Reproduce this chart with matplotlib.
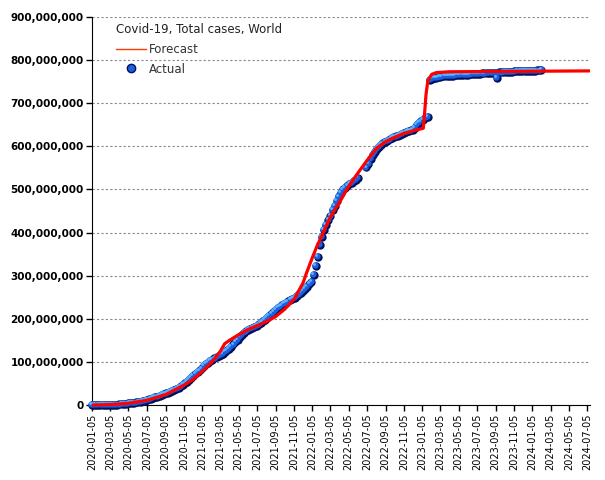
import matplotlib

matplotlib.use("Agg")
import matplotlib.pyplot as plt
import matplotlib.transforms as mtransforms
from matplotlib.lines import Line2D
from matplotlib.ticker import FuncFormatter, MultipleLocator
import numpy as np
import pandas as pd

# weekly actual totals (millions), Sundays from 2020-01-05
actual_2020 = [0, 0, 0.0003, 0.002, 0.017, 0.04, 0.07, 0.079, 0.088, 0.11, 0.17, 0.34, 0.72,
               1.27, 1.8, 2.4, 2.95, 3.5, 4.1, 4.7, 5.4, 6.1, 7.0, 7.9, 8.9, 10.1,
               11.4, 12.8, 14.4, 16.1, 17.9, 19.7, 21.5, 23.3, 25.0, 26.9, 28.9, 30.9, 32.9,
               35.1, 37.4, 40.0, 43.0, 46.4, 50.3, 54.4, 58.3, 62.1, 66.6, 71.2, 75.9, 80.3]
actual_2021 = [84.8, 89.9, 94.5, 98.4, 102.3, 105.4, 108.1, 110.6, 113.3, 116.0, 119.2, 122.8, 126.6,
               130.6, 135.2, 140.4, 146.1, 151.8, 157.5, 162.7, 166.9, 170.5, 173.5, 176.2, 178.7, 181.3,
               183.9, 186.9, 190.3, 194.1, 198.3, 202.6, 207.2, 211.6, 216.1, 220.3, 224.3, 227.9, 231.2,
               234.4, 237.3, 240.2, 243.0, 246.1, 249.3, 252.9, 256.6, 260.4, 264.6, 268.9, 273.7, 280.0]
actual_2022 = [286, 301, 322, 344, 371, 389, 406, 418, 429, 438, 452, 462, 473,
               484, 492, 500, 504, 508, 512, 516, 519, 522, 526, np.nan, np.nan, np.nan,
               551, 560, 570, 580, 588, 594, 599, 603, 607, 610, 613, 616, 619,
               621, 623, 625, 627, 629, 631, 633, 635, 637, 638, 643, 649, 654]
actual_2023 = [658, 662, 666, 669, 754, 756, 758, 759, 760, 761, 762, 762.5, 763,
               763.5, 764, 764.3, 764.6, 765, 765.3, 765.6, 766, 766.3, 766.6, 767, 767.3, 767.6,
               768, 768.3, 768.6, 769, 769.3, 769.6, 770, 770.3, 770.6, 771, 759, 771.3, 771.6,
               772, 772.3, 772.6, 773, 773.3, 773.6, 774, 774.2, 774.4, 774.6, 774.8, 775, 775.2, 775.4]
actual_2024 = [775.6, 775.8, 776, 776.2, 776.4]

forecast_dates = ["2020-01-05", "2020-03-05", "2020-05-05", "2020-07-05", "2020-09-05", "2020-11-05",
                  "2020-12-05", "2021-01-05", "2021-02-05", "2021-03-05", "2021-03-20", "2021-04-05",
                  "2021-05-05", "2021-06-05", "2021-07-05", "2021-08-05", "2021-09-05", "2021-10-05",
                  "2021-11-05", "2021-12-05", "2021-12-17", "2022-01-05", "2022-01-20", "2022-02-05",
                  "2022-03-05", "2022-04-05", "2022-05-05", "2022-06-05", "2022-07-05", "2022-08-05",
                  "2022-09-05", "2022-10-05", "2022-11-05", "2022-12-05", "2023-01-08", "2023-01-11",
                  "2023-01-17", "2023-01-23", "2023-02-05", "2023-02-20", "2023-04-05", "2024-07-14"]
forecast_values = [0, 1, 4, 11, 24, 46, 59, 78, 99, 124, 142, 150,
                   163, 175, 184, 193, 205, 222, 245, 283, 307, 342, 368, 392,
                   435, 470, 507, 538, 567, 595, 611, 621, 630, 636, 642, 665,
                   720, 752, 767, 771, 773, 775]

title = "Covid-19, Total cases, World"
tick_dates = pd.date_range("2020-01-05", "2024-07-05", freq=pd.DateOffset(months=2))

actual = np.array(actual_2020 + actual_2021 + actual_2022 + actual_2023 + actual_2024) * 1e6
actual_dates = pd.date_range("2020-01-05", periods=len(actual), freq="7D")
ok = ~np.isnan(actual)
fc_dates = pd.to_datetime(forecast_dates)
fc = np.array(forecast_values) * 1e6

fig = plt.figure(figsize=(6.05, 4.8), dpi=100)
ax = fig.add_axes([92 / 605, 75 / 480, 498 / 605, 388 / 480])

# sphere-like markers: dark base, blue body, light highlight
xd, yd = actual_dates[ok], actual[ok]
ax.scatter(xd, yd, s=36, color="#00105a", linewidths=0, zorder=3, clip_on=False)
off1 = mtransforms.offset_copy(ax.transData, fig=fig, x=-0.6, y=0.6, units="points")
ax.scatter(xd, yd, s=20, color="#1c5fe0", linewidths=0, zorder=3, clip_on=False, transform=off1)
off2 = mtransforms.offset_copy(ax.transData, fig=fig, x=-1.3, y=1.3, units="points")
ax.scatter(xd, yd, s=4, color="#5fb8ff", linewidths=0, zorder=3, clip_on=False, transform=off2)

ax.plot(fc_dates, fc, color="#ff0000", lw=2.3, zorder=4, clip_on=False, solid_capstyle="butt")

ax.set_xlim(pd.Timestamp("2020-01-05"), pd.Timestamp("2024-07-14"))
ax.set_ylim(0, 900e6)
ax.yaxis.set_major_locator(MultipleLocator(100e6))
ax.yaxis.set_major_formatter(FuncFormatter(lambda v, p: f"{v:,.0f}"))
ax.set_xticks(tick_dates)
ax.set_xticklabels([d.strftime("%Y-%m-%d") for d in tick_dates], rotation=90, fontsize=7)
for lab in ax.get_yticklabels():
    lab.set_fontsize(7.5)
    lab.set_fontweight("bold")
ax.tick_params(axis="both", direction="out", length=4, width=1, color="black", pad=2)

for side in ("top", "right"):
    ax.spines[side].set_visible(False)
ax.grid(axis="y", color="#888888", linestyle=(0, (2, 2)), linewidth=0.8)
ax.set_axisbelow(True)

handles = [
    Line2D([], [], color="#ff3c00", lw=1),
    Line2D([], [], ls="none", marker="o", ms=6, markerfacecolor="#1c5fe0", markeredgecolor="#00105a"),
]
leg = ax.legend(handles, ["Forecast", "Actual"], title=title, loc="upper left",
                bbox_to_anchor=(0.048, 0.985), frameon=False, fontsize=8.5, title_fontsize=8.5,
                alignment="left", handlelength=2.55, handletextpad=0.25, labelspacing=0.58,
                borderaxespad=0, borderpad=0)
for t in leg.get_texts():
    t.set_color("#333333")
leg.get_title().set_color("#222222")

fig.savefig("out.png", dpi=100)
